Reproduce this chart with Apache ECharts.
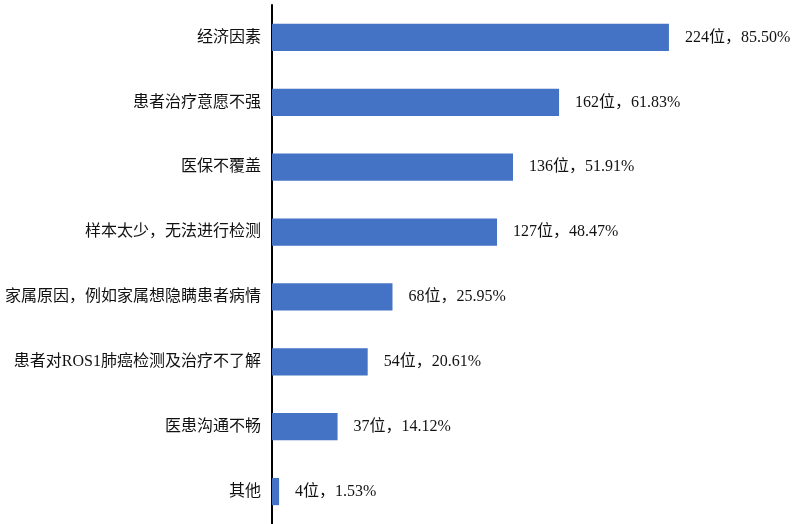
<!DOCTYPE html>
<html><head><meta charset="utf-8">
<script src="https://cdn.jsdelivr.net/npm/echarts@6/dist/echarts.min.js"></script>
<style>html,body{margin:0;padding:0;background:#fff}#c{width:793px;height:524px}</style>
</head><body><div id="c"></div>
<script>
const categories = ["经济因素","患者治疗意愿不强","医保不覆盖","样本太少，无法进行检测","家属原因，例如家属想隐瞒患者病情","患者对ROS1肺癌检测及治疗不了解","医患沟通不畅","其他"];
const counts = [224,162,136,127,68,54,37,4];
const percents = ["85.50%","61.83%","51.91%","48.47%","25.95%","20.61%","14.12%","1.53%"];
const font = '"Liberation Serif","Times New Roman","Noto Sans CJK SC",serif';
const chart = echarts.init(document.getElementById('c'));
chart.setOption({
  animation:false,
  grid:{left:272,right:78,top:5,bottom:-1,containLabel:false},
  xAxis:{type:'value',min:0,max:250,show:false},
  yAxis:{type:'category',inverse:true,data:categories,
    axisLine:{show:true,lineStyle:{color:'#000',width:2}},
    axisTick:{show:false},
    axisLabel:{color:'#111',fontSize:16,fontFamily:font,margin:11}},
  series:[{type:'bar',data:counts,barCategoryGap:'58%',
    itemStyle:{color:'#4472C4'},
    label:{show:true,position:'right',distance:16,color:'#111',fontSize:16,fontFamily:font,
      formatter:p=>counts[p.dataIndex]+'位，'+percents[p.dataIndex]}}]
});
</script></body></html>
